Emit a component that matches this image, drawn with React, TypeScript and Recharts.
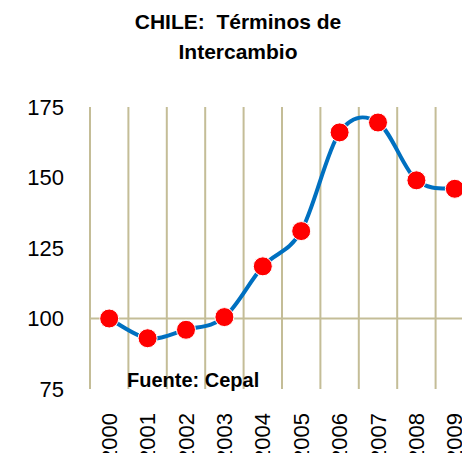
import { LineChart, Line, XAxis, YAxis, ReferenceLine } from 'recharts';

// datos (índice, Cepal)
const years = [2000, 2001, 2002, 2003, 2004, 2005, 2006, 2007, 2008, 2009];
const terminos = [100, 93, 96, 100.5, 118.5, 131, 166, 169.5, 149, 146];
const yTicks = [75, 100, 125, 150, 175];
const yearLabels = years.map(String);

const data = years.map((year, i) => ({ year, value: terminos[i], label: yearLabels[i] }));
// líneas verticales entre categorías
const boundaries = [...years.map((y) => y - 0.5), years[years.length - 1] + 0.5];

const GRID = '#C4BD97';
const FONT = '"Liberation Sans", Arial, sans-serif';

// curva suavizada tipo Excel (Catmull-Rom)
const smoothCurve = (context: any) => {
  let pts: [number, number][] = [];
  return {
    areaStart() {},
    areaEnd() {},
    lineStart() {
      pts = [];
    },
    lineEnd() {
      if (!pts.length) return;
      context.moveTo(pts[0][0], pts[0][1]);
      for (let i = 0; i < pts.length - 1; i++) {
        const p0 = pts[i - 1] || pts[i];
        const p1 = pts[i];
        const p2 = pts[i + 1];
        const p3 = pts[i + 2] || p2;
        context.bezierCurveTo(
          p1[0] + (p2[0] - p0[0]) / 6,
          p1[1] + (p2[1] - p0[1]) / 6,
          p2[0] - (p3[0] - p1[0]) / 6,
          p2[1] - (p3[1] - p1[1]) / 6,
          p2[0],
          p2[1]
        );
      }
    },
    point(x: number, y: number) {
      pts.push([x, y]);
    },
  };
};

const YearTick = ({ x, y, payload }: any) => (
  <text
    x={x}
    y={y}
    transform={`rotate(-90, ${x}, ${y})`}
    textAnchor="end"
    dy="0.35em"
    fontSize={22}
    fontFamily={FONT}
    fill="#000"
  >
    {yearLabels[years.indexOf(payload.value)]}
  </text>
);

export default function App() {
  return (
    <div style={{ position: 'absolute', left: 0, top: 0, width: 462, height: 453, overflow: 'hidden', background: '#fff' }}>
      <div
        style={{
          position: 'absolute',
          left: 0,
          top: 7,
          width: 476,
          textAlign: 'center',
          fontFamily: FONT,
          fontWeight: 'bold',
          fontSize: 21,
          lineHeight: '30px',
          whiteSpace: 'pre',
        }}
      >
        {'CHILE:  Términos de\nIntercambio'}
      </div>
      <LineChart width={480} height={453} data={data} margin={{ top: 107, right: 6, left: 0, bottom: 0 }}>
        <XAxis
          dataKey="year"
          type="number"
          domain={[1999.5, 2009.5]}
          ticks={years}
          interval={0}
          axisLine={false}
          tickLine={false}
          tickSize={0}
          tickMargin={24}
          height={64}
          tick={<YearTick />}
        />
        <YAxis
          domain={[75, 175]}
          ticks={yTicks}
          axisLine={false}
          tickLine={false}
          tickSize={0}
          tickMargin={26}
          width={90}
          tick={{ fontSize: 22, fill: '#000', fontFamily: FONT }}
        />
        {boundaries.map((b) => (
          <ReferenceLine key={b} x={b} stroke={GRID} strokeWidth={2} />
        ))}
        <ReferenceLine y={100} stroke={GRID} strokeWidth={2} />
        <Line
          dataKey="value"
          type={smoothCurve as any}
          stroke="#0070C0"
          strokeWidth={4}
          dot={{ r: 9.5, fill: '#FF0000', stroke: '#fff', strokeWidth: 1, fillOpacity: 1 }}
          isAnimationActive={false}
        />
      </LineChart>
      <div
        style={{
          position: 'absolute',
          left: 127,
          top: 370,
          fontFamily: FONT,
          fontWeight: 'bold',
          fontSize: 20,
          lineHeight: '20px',
        }}
      >
        Fuente: Cepal
      </div>
    </div>
  );
}
